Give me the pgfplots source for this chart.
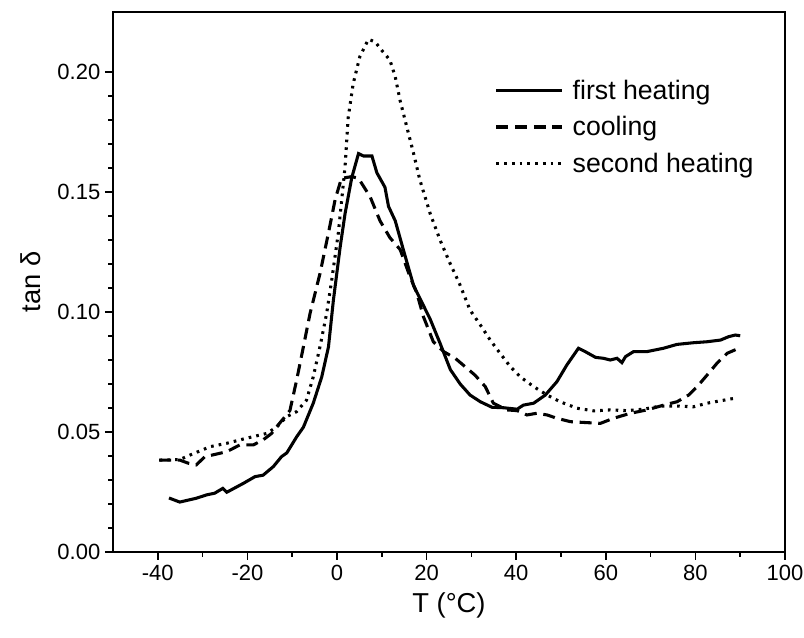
\documentclass[border=0pt]{standalone}
\usepackage{fontspec}
\setmainfont{Liberation Sans}
\usepackage{pgfplots}
\pgfplotsset{compat=1.18}
\begin{document}
\begin{tikzpicture}
\useasboundingbox (-84.75pt,-64.5pt) rectangle (518.25pt,414pt);
\begin{axis}[
    at={(0,0)}, anchor=south west,
    scale only axis,
    width=504pt, height=405pt,
    xmin=-50, xmax=100, ymin=0, ymax=0.225,
    xtick={-40,-20,...,100}, minor x tick num=1,
    ytick={0,0.05,...,0.21}, minor y tick num=4,
    yticklabel style={/pgf/number format/.cd, fixed, fixed zerofill, precision=2},
    /pgf/number format/assume math mode=true,
    tick align=outside, xtick pos=bottom, ytick pos=left,
    major tick length=6pt, minor tick length=3.5pt,
    every tick/.style={black, line width=1.2pt},
    axis line style={line width=1.6pt},
    ticklabel style={font=\fontsize{16.5}{20}\selectfont},
    xlabel={T (°C)}, ylabel={tan δ},
    label style={font=\fontsize{20.5}{24}\selectfont},
    xlabel style={at={(axis description cs:0.5,-0.099)}, anchor=center},
    ylabel style={at={(axis description cs:-0.101,0.5)}, anchor=south},
    legend style={at={(0.562,0.885)}, anchor=north west, draw=none, fill=none,
        font=\fontsize{20}{24}\selectfont, row sep=7.5pt, cells={anchor=west}},
    legend image code/.code={\draw[#1] (0cm,0cm) -- (1.73cm,0cm); \path (1.9cm,0cm);},
]
\addplot[black, line width=2.3pt] coordinates {
(-37.5,0.0225) (-35.1,0.0208) (-31.4,0.0224) (-29.1,0.0238) (-27.3,0.0245)
(-25.5,0.0265) (-24.6,0.0249) (-20.9,0.0286) (-18.3,0.0314) (-16.5,0.032)
(-14.2,0.0356) (-12.4,0.0397) (-11.2,0.0413) (-9.0,0.048) (-7.5,0.052)
(-5.3,0.062) (-3.4,0.073) (-1.9,0.0855) (-0.8,0.105) (0.7,0.127)
(1.8,0.141) (3.3,0.156) (4.8,0.166) (5.9,0.165) (7.8,0.165) (8.9,0.158)
(10.7,0.152) (11.5,0.144) (13.0,0.138) (14.8,0.126) (17.1,0.111)
(20.8,0.097) (23.0,0.087) (25.3,0.076) (27.5,0.070) (29.7,0.0654)
(32.0,0.0626) (34.6,0.0603) (37.2,0.0601) (40.2,0.0595) (41.6,0.0612)
(43.9,0.062) (46.5,0.0654) (49.1,0.071) (51.3,0.0779) (53.9,0.0849)
(55.4,0.0835) (57.7,0.0811) (59.5,0.0807) (61.0,0.080) (62.5,0.0807)
(63.6,0.0789) (64.4,0.0814) (66.2,0.0835) (69.2,0.0835) (72.9,0.0849)
(75.9,0.0865) (79.6,0.0872) (82.6,0.0876) (85.6,0.0883) (87.4,0.0897)
(88.9,0.0904) (90.0,0.0901)
};
\addplot[black, line width=2.3pt, dash pattern=on 9pt off 5pt] coordinates {
(-39.7,0.0383) (-35.1,0.0383) (-33.2,0.037) (-31.4,0.0363) (-29.5,0.0397)
(-26.9,0.0408) (-24.6,0.0418) (-21.7,0.0446) (-18.7,0.0446) (-16.5,0.0467)
(-14.6,0.0494) (-13.1,0.053) (-11.6,0.0564) (-10.5,0.059) (-9.0,0.0717)
(-7.5,0.0855) (-6.0,0.0995) (-4.2,0.113) (-3.8,0.116) (-1.9,0.133)
(-0.4,0.147) (1.0,0.1557) (3.3,0.1564) (4.8,0.1557) (7.4,0.148)
(9.6,0.138) (11.8,0.131) (14.1,0.126) (16.3,0.1147) (17.8,0.108)
(19.3,0.098) (21.5,0.0876) (23.8,0.0835) (26.4,0.0807) (28.6,0.0772)
(30.8,0.0737) (33.1,0.0689) (34.9,0.062) (37.9,0.0592) (40.2,0.0589)
(42.4,0.0571) (44.6,0.0578) (46.9,0.0571) (49.1,0.0557) (52.1,0.0543)
(55.8,0.0539) (58.8,0.0536) (61.7,0.0557) (65.5,0.0578) (69.2,0.0592)
(72.9,0.0612) (75.9,0.0626) (78.5,0.0654) (80.4,0.0689) (82.6,0.0737)
(84.8,0.0786) (87.1,0.0828) (89.7,0.0849)
};
\addplot[black, line width=2.3pt, dash pattern=on 2pt off 3.8pt] coordinates {
(-39.6,0.0383) (-35.1,0.0385) (-32.8,0.0404) (-28.3,0.0439) (-24.6,0.0453)
(-20.2,0.0474) (-15.7,0.0494) (-13.5,0.052) (-11.2,0.0564) (-9.0,0.0585)
(-6.8,0.0633) (-5.3,0.073) (-3.8,0.0855) (-2.3,0.0995) (-1.2,0.113)
(0.3,0.133) (1.8,0.1605) (2.5,0.181) (3.6,0.195) (5.1,0.2064)
(7.0,0.2136) (8.5,0.2126) (10.0,0.209) (11.8,0.205) (13.0,0.198)
(14.1,0.188) (15.6,0.177) (17.1,0.166) (18.5,0.155) (20.8,0.141)
(23.0,0.130) (25.3,0.120) (27.3,0.112) (29.7,0.1008) (32.0,0.0946)
(34.2,0.0883) (36.4,0.0828) (38.7,0.0772) (40.9,0.073) (43.9,0.0689)
(46.9,0.0654) (49.8,0.0626) (53.6,0.0599) (57.3,0.0588) (61.0,0.0592)
(64.7,0.0589) (68.4,0.0595) (72.2,0.0608) (75.9,0.0608) (79.6,0.0605)
(82.6,0.062) (85.6,0.063) (88.6,0.064)
};
\legend{first heating, cooling, second heating}
\end{axis}
\end{tikzpicture}
\end{document}
